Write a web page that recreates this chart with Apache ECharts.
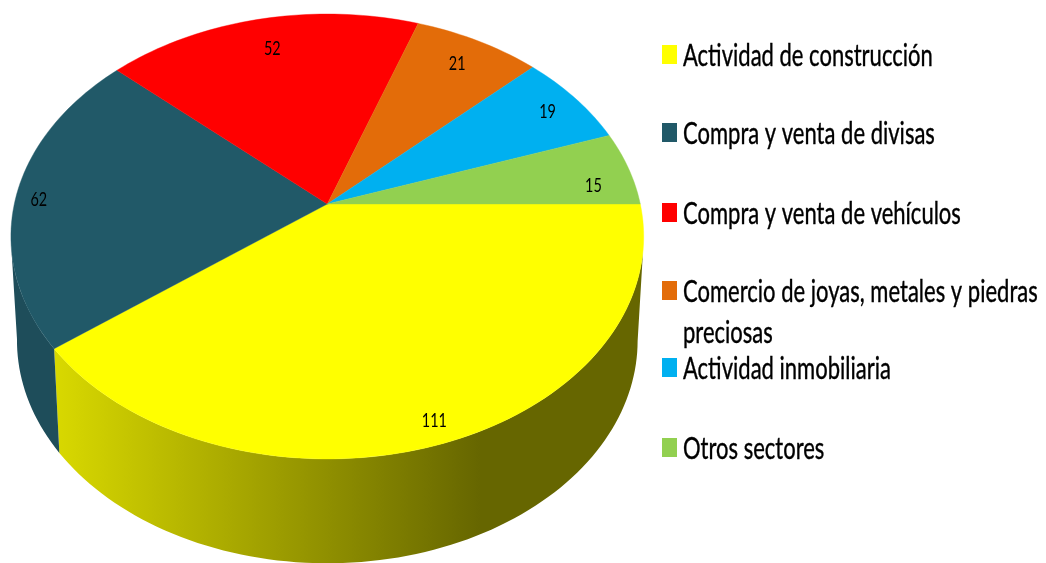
<!DOCTYPE html>
<html>
<head>
<meta charset="utf-8">
<style>
  html, body { margin: 0; padding: 0; background: #fff; }
  #chart { width: 1046px; height: 563px; }
</style>
<script src="https://cdn.jsdelivr.net/npm/echarts@6/dist/echarts.min.js"></script>
</head>
<body>
<div id="chart"></div>
<script>
const categories = [
  'Actividad de construcción',
  'Compra y venta de divisas',
  'Compra y venta de vehículos',
  'Comercio de joyas, metales y piedras',
  'Actividad inmobiliaria',
  'Otros sectores'
];
const values = [111, 62, 52, 21, 19, 15];
const colors = ['#FFFF00', '#215968', '#FF0000', '#E36C09', '#00B0F0', '#92D050'];

// layout of the tilted pie: the disc is a perspective view of a circle
const fontFamily = 'Lato, "Liberation Sans", sans-serif';
const top3d = { cx: 327.3, cy: 204, a: 313, b: 217.7, k: 0.146 };
const bottom3d = { cx: 327.3, cy: 308, a: 307, b: 218, k: 0.146 };
const frontTop = [12, 168];      // where the side wall leaves the top rim
const frontBottom = [8.5, 172];  // and where it meets the lower rim
const labelRadius = [0.92, 0.925, 0.82, 0.846, 0.875, 0.865];
const labelTurn = [-0.3, -1.2, 0.3, 0, 0.5, 4];
const legendCenters = [55.5, 133.5, 213.5, 291.5, 368.5, 448.5];
const swatchCenters = [54.5, 132.5, 212.5, 290.5, 367.5, 447.5];
const legendFont = 31;
const squeeze = 0.71;  // the original text is squashed sideways

const total = values.reduce((s, v) => s + v, 0);
const startAngles = values.map((v, i) => values.slice(0, i).reduce((s, x) => s + x, 0) / total * 360);
const endAngles = startAngles.map((s, i) => s + values[i] / total * 360);

function project(p, angle, r) {
  const t = angle * Math.PI / 180;
  const u = r * Math.cos(t);
  const v = r * Math.sin(t);
  const d = 1 - p.k * v;
  return [p.cx + p.a * u / d, p.cy + p.b * v / d];
}

function rim(p, from, to) {
  const pts = [];
  const n = Math.max(2, Math.ceil(Math.abs(to - from) / 1.5));
  for (let i = 0; i <= n; i++) pts.push(project(p, from + (to - from) * i / n, 1));
  return pts;
}

// side wall of a slice, only for the part facing the viewer
function wallPoints(i) {
  const topFrom = Math.max(startAngles[i], frontTop[0]);
  const topTo = Math.min(endAngles[i], frontTop[1]);
  const botFrom = Math.max(startAngles[i], frontBottom[0]);
  const botTo = Math.min(endAngles[i], frontBottom[1]);
  if (botFrom >= botTo) return null;
  return rim(top3d, topFrom, topTo).concat(rim(bottom3d, botTo, botFrom));
}

const wallFills = [
  new echarts.graphic.LinearGradient(54, 0, 480, 0, [
    { offset: 0, color: '#D9D900' },
    { offset: 1, color: '#666600' }
  ], true),
  '#1E4D5A'
];

function renderSlice(i) {
  const children = [];
  const wall = wallPoints(i);
  if (wall) {
    children.push({
      type: 'polygon',
      shape: { points: wall },
      style: { fill: wallFills[i], stroke: null }
    });
  }
  const sector = [project(top3d, 0, 0)].concat(rim(top3d, startAngles[i], endAngles[i]));
  children.push({
    type: 'polygon',
    shape: { points: sector },
    style: { fill: colors[i], stroke: colors[i], lineWidth: 0.4 }
  });
  const mid = (startAngles[i] + endAngles[i]) / 2 + labelTurn[i];
  const pos = project(top3d, mid, labelRadius[i]);
  children.push({
    type: 'text',
    x: pos[0],
    y: pos[1],
    scaleX: 0.72,
    style: {
      text: String(values[i]),
      fill: '#000',
      font: '20px ' + fontFamily,
      align: 'center',
      verticalAlign: 'middle'
    }
  });
  return { type: 'group', children: children };
}

function legendText(text, y) {
  return {
    type: 'text',
    x: 683,
    y: y,
    scaleX: squeeze,
    style: {
      text: text,
      fill: '#000',
      stroke: '#000',
      lineWidth: 0.4,
      font: legendFont + 'px ' + fontFamily,
      align: 'left',
      verticalAlign: 'middle'
    }
  };
}

const legendItems = [];
categories.forEach((name, i) => {
  legendItems.push({
    type: 'rect',
    shape: { x: 662, y: swatchCenters[i] - 9.5, width: 15, height: 19 },
    style: { fill: colors[i] }
  });
  legendItems.push(legendText(name, legendCenters[i]));
});
legendItems.push(legendText('preciosas', 332.5));

const chart = echarts.init(document.getElementById('chart'), null, { renderer: 'canvas' });
chart.setOption({
  animation: false,
  backgroundColor: '#fff',
  graphic: legendItems,
  series: categories.map((name, i) => ({
    type: 'custom',
    name: name,
    coordinateSystem: 'none',
    silent: true,
    itemStyle: { color: colors[i] },
    data: [values[i]],
    renderItem: () => renderSlice(i)
  }))
});
</script>
</body>
</html>
